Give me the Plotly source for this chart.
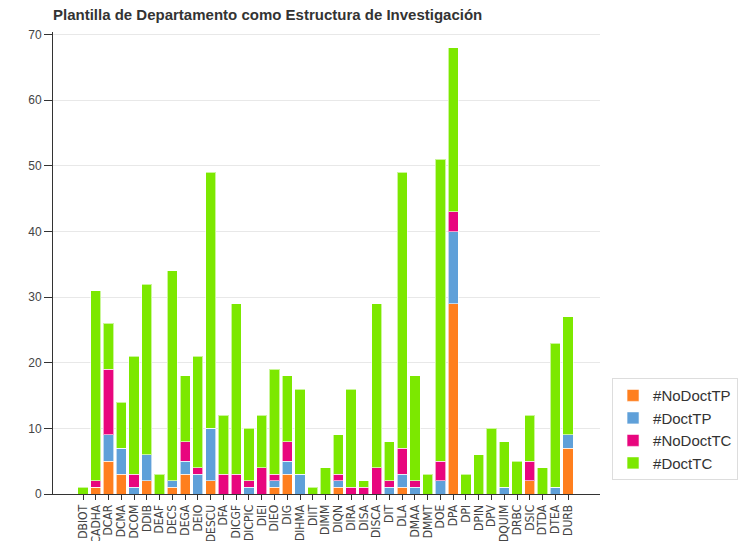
import plotly.graph_objects as go

categories = ["DBIOT", "CADHA", "DCAR", "DCMA", "DCOM", "DDIB", "DEAF", "DECS", "DEGA", "DEIO",
              "DESCU", "DFA", "DICGF", "DICPIC", "DIEI", "DIEO", "DIG", "DIHMA", "DIIT", "DIMM",
              "DIQN", "DIRA", "DISA", "DISCA", "DIT", "DLA", "DMAA", "DMMT", "DOE", "DPA",
              "DPI", "DPIN", "DPV", "DQUIM", "DRBC", "DSIC", "DTDA", "DTEA", "DURB"]

no_doct_tp = [0, 1, 5, 3, 0, 2, 0, 1, 3, 0,
              2, 0, 0, 0, 0, 1, 3, 0, 0, 0,
              1, 0, 0, 0, 0, 1, 0, 0, 0, 29,
              0, 0, 0, 0, 0, 2, 0, 0, 7]
doct_tp = [0, 0, 4, 4, 1, 4, 0, 1, 2, 3,
           8, 0, 0, 1, 0, 1, 2, 3, 0, 0,
           1, 0, 0, 0, 1, 2, 1, 0, 2, 11,
           0, 0, 0, 1, 0, 0, 0, 1, 2]
no_doct_tc = [0, 1, 10, 0, 2, 0, 0, 0, 3, 1,
              0, 3, 3, 1, 4, 1, 3, 0, 0, 0,
              1, 1, 1, 4, 1, 4, 1, 0, 3, 3,
              0, 0, 0, 0, 0, 3, 0, 0, 0]
doct_tc = [1, 29, 7, 7, 18, 26, 3, 32, 10, 17,
           39, 9, 26, 8, 8, 16, 10, 13, 1, 4,
           6, 15, 1, 25, 6, 42, 16, 3, 46, 25,
           3, 6, 10, 7, 5, 7, 4, 22, 18]

series = [
    ("#NoDoctTP", no_doct_tp, "#ff7f1e"),
    ("#DoctTP", doct_tp, "#5fa0d9"),
    ("#NoDoctTC", no_doct_tc, "#e8067e"),
    ("#DoctTC", doct_tc, "#7ce800"),
]

fig = go.Figure()
for name, vals, color in series:
    fig.add_trace(go.Bar(
        x=categories, y=vals, name=name,
        marker=dict(color=color, line=dict(color="rgba(255,255,255,0.6)", width=1)),
    ))

fig.update_layout(
    width=756, height=541,
    barmode="stack", bargap=0.2,
    plot_bgcolor="white", paper_bgcolor="white",
    font=dict(family="Liberation Sans, Arial, sans-serif", color="#444", size=12),
    margin=dict(l=53, r=156, t=32, b=47, autoexpand=False),
    title=dict(text="<b>Plantilla de Departamento como Estructura de Investigación</b>",
               x=53 / 756, xanchor="left", y=1 - 15 / 541, yanchor="middle",
               font=dict(size=15, color="#333")),
    legend=dict(x=1.022, xanchor="left", y=0.03, yanchor="bottom",
                traceorder="normal", bordercolor="#dddddd", borderwidth=1,
                font=dict(size=15, color="#333"), bgcolor="white",
                tracegroupgap=4),
    showlegend=True,
)
fig.update_xaxes(
    range=[-2.35, 40.5], tickangle=-90, showline=True, linecolor="#333", linewidth=1,
    tickmode="array", tickvals=categories, ticktext=categories,
    ticks="outside", tickcolor="#333", ticklen=5, automargin=False,
    tickfont=dict(size=12, color="#444", family="DejaVu Sans Condensed, Liberation Sans Narrow, sans-serif"),
    showgrid=False,
)
fig.update_yaxes(
    range=[0, 70.4], dtick=10, showline=True, linecolor="#333", linewidth=1,
    ticks="outside", tickcolor="#333", ticklen=8, automargin=False,
    gridcolor="#e8e8e8", zeroline=False, tickfont=dict(size=12, color="#444"),
)

fig.write_html("out.html", config={"displayModeBar": False},
               post_script="document.body.style.margin='0';")
